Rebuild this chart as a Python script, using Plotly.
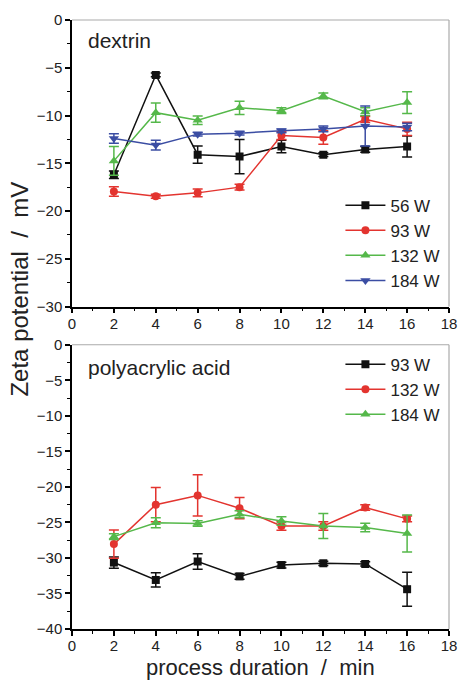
import plotly.graph_objects as go
from plotly.subplots import make_subplots

x = [2, 4, 6, 8, 10, 12, 14, 16]

# dextrin panel
dex_names = ["56 W", "93 W", "132 W", "184 W"]
dex_56 = [-16.2, -5.75, -14.1, -14.3, -13.25, -14.1, -13.55, -13.25]
dex_56_err = [0.4, 0.2, 0.9, 1.8, 0.65, 0.2, 0.3, 1.1]
dex_93 = [-17.95, -18.45, -18.1, -17.5, -12.1, -12.3, -10.4, -11.4]
dex_93_err = [0.5, 0.2, 0.4, 0.3, 0.4, 0.7, 0.3, 0.7]
dex_132 = [-14.75, -9.7, -10.5, -9.2, -9.5, -7.95, -9.6, -8.65]
dex_132_err = [1.5, 1.0, 0.45, 0.7, 0.3, 0.3, 0.4, 1.15]
dex_184 = [-12.4, -13.1, -11.95, -11.85, -11.6, -11.4, -11.1, -11.2]
dex_184_err = [0.5, 0.5, 0.2, 0.2, 0.2, 0.3, 2.1, 0.4]

# polyacrylic acid panel
paa_names = ["93 W", "132 W", "184 W"]
paa_93 = [-30.65, -33.1, -30.5, -32.6, -31.0, -30.75, -30.85, -34.4]
paa_93_err = [0.8, 1.0, 1.1, 0.4, 0.4, 0.3, 0.3, 2.4]
paa_132 = [-28.05, -22.5, -21.2, -23.0, -25.5, -25.5, -22.9, -24.5]
paa_132_err = [2.0, 2.4, 2.9, 1.5, 0.6, 0.6, 0.4, 0.4]
paa_184 = [-27.0, -25.05, -25.15, -23.85, -24.8, -25.5, -25.7, -26.55]
paa_184_err = [0.4, 0.7, 0.4, 0.5, 0.6, 1.75, 0.6, 2.6]

BLACK = "#111111"
RED = "#e3342f"
GREEN = "#55b84a"
BLUE = "#3b4da3"

FONT = "Arial, Liberation Sans, Helvetica, sans-serif"
TXT = "#222222"

fig = make_subplots(rows=2, cols=1, vertical_spacing=0.0)

def add(row, xs, ys, errs, name, color, symbol, size, legend):
    fig.add_trace(go.Scatter(
        x=xs, y=ys, name=name, mode="lines+markers",
        line=dict(color=color, width=1.5),
        marker=dict(color=color, symbol=symbol, size=size, line=dict(width=0)),
        error_y=dict(type="data", array=errs, visible=True, color=color,
                     thickness=1.5, width=5),
        legend=legend,
    ), row=row, col=1)

add(1, x, dex_56, dex_56_err, dex_names[0], BLACK, "square", 8, "legend")
add(1, x, dex_93, dex_93_err, dex_names[1], RED, "circle", 8, "legend")
add(1, x, dex_132, dex_132_err, dex_names[2], GREEN, "triangle-up", 9, "legend")
add(1, x, dex_184, dex_184_err, dex_names[3], BLUE, "triangle-down", 9, "legend")

add(2, x, paa_93, paa_93_err, paa_names[0], BLACK, "square", 8, "legend2")
add(2, x, paa_132, paa_132_err, paa_names[1], RED, "circle", 8, "legend2")
add(2, x, paa_184, paa_184_err, paa_names[2], GREEN, "triangle-up", 9, "legend2")

axis_common = dict(
    showline=True, linecolor="black", linewidth=1.5,
    ticks="outside", ticklen=5, tickwidth=1.5, tickcolor="black",
    showgrid=False, zeroline=False,
    tickfont=dict(family=FONT, size=15, color=TXT),
)

H = 682
top_px, mid1_px, mid2_px, bot_px = 19, 306, 344.3, 629
ph = bot_px - top_px
top_dom = [(bot_px - mid1_px) / ph, 1]
bot_dom = [0, (bot_px - mid2_px) / ph]

def minor(d):
    return dict(ticks="outside", ticklen=3, dtick=d, tickcolor="black", tickwidth=1.2)

fig.update_layout(
    width=468, height=682,
    margin=dict(l=72, r=11, t=top_px, b=H - bot_px),
    paper_bgcolor="white", plot_bgcolor="white",
    font=dict(family=FONT, color=TXT),
    xaxis=dict(domain=[0, 1], range=[0, 18], dtick=2, anchor="y", minor=minor(1),
               ticklabelstandoff=-2, **axis_common),
    yaxis=dict(domain=top_dom, range=[-30, 0], dtick=5, anchor="x", minor=minor(2.5), **axis_common),
    xaxis2=dict(domain=[0, 1], range=[0, 18], dtick=2, anchor="y2", minor=minor(1),
                ticklabelstandoff=-3, **axis_common),
    yaxis2=dict(domain=bot_dom, range=[-40, 0], dtick=5, anchor="x2", minor=minor(2.5), **axis_common),
    legend=dict(x=0.712, y=top_dom[0] + (top_dom[1] - top_dom[0]) * 0.415,
                xanchor="left", yanchor="top",
                bgcolor="rgba(0,0,0,0)", font=dict(family=FONT, size=17, color=TXT),
                tracegroupgap=0, itemwidth=40),
    legend2=dict(x=0.712, y=bot_dom[1] - 0.003, xanchor="left", yanchor="top",
                 bgcolor="rgba(0,0,0,0)", font=dict(family=FONT, size=17, color=TXT),
                 tracegroupgap=0, itemwidth=40),
    showlegend=True,
)

# grey top/right frame lines
for xr, yr in (("x domain", "y domain"), ("x2 domain", "y2 domain")):
    fig.add_shape(type="line", xref=xr, yref=yr, x0=0, x1=1, y0=1, y1=1,
                  line=dict(color="#aaaaaa", width=1.2))
    fig.add_shape(type="line", xref=xr, yref=yr, x0=1, x1=1, y0=0, y1=1,
                  line=dict(color="#aaaaaa", width=1.2))

fig.add_annotation(text="dextrin", xref="x domain", yref="y domain", x=0.038, y=0.929,
                   xanchor="left", yanchor="middle", showarrow=False,
                   font=dict(family=FONT, size=21, color=TXT))
fig.add_annotation(text="polyacrylic acid", xref="x2 domain", yref="y2 domain", x=0.038, y=0.919,
                   xanchor="left", yanchor="middle", showarrow=False,
                   font=dict(family=FONT, size=21, color=TXT))

fig.add_annotation(text="Zeta potential\u00a0\u00a0/\u00a0\u00a0mV", xref="paper", yref="paper",
                   x=0, xshift=-52, y=(bot_px - 289) / ph, textangle=-90,
                   xanchor="center", yanchor="middle", showarrow=False,
                   font=dict(family=FONT, size=24, color=TXT))
fig.add_annotation(text="process duration\u00a0\u00a0/\u00a0\u00a0min", xref="paper", yref="paper",
                   x=0.5, y=0, yshift=-53, xanchor="center", yanchor="bottom", showarrow=False,
                   font=dict(family=FONT, size=22, color=TXT))

fig.write_html("out.html")
